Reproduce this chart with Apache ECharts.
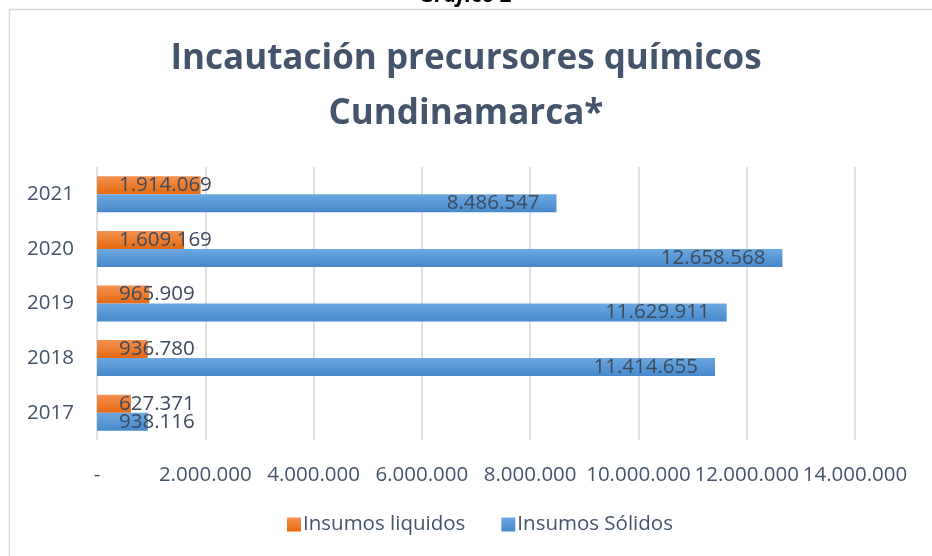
<!DOCTYPE html>
<html>
<head>
<meta charset="utf-8">
<script src="https://cdn.jsdelivr.net/npm/echarts@6/dist/echarts.min.js"></script>
<style>
html,body{margin:0;padding:0;background:#fff;}
#chart{width:932px;height:556px;}
</style>
</head>
<body>
<div id="chart"></div>
<script>
var categories = ['2017', '2018', '2019', '2020', '2021'];
var liquidos = [627371, 936780, 965909, 1609169, 1914069];
var solidos = [938116, 11414655, 11629911, 12658568, 8486547];
var tickLabels = ['-', '2.000.000', '4.000.000', '6.000.000', '8.000.000', '10.000.000', '12.000.000', '14.000.000'];
var seriesNames = ['Insumos liquidos', 'Insumos Sólidos'];

var FONT = '"Open Sans", sans-serif';
var TXT = '#44546A';

function fmt(v) {
  return String(v).replace(/\B(?=(\d{3})+(?!\d))/g, '.');
}
function items(arr) {
  return arr.map(function (v) {
    var small = v < 3000000;
    return {
      value: v,
      label: small ? { position: 'insideLeft', distance: 22 } : { position: 'insideRight', distance: 17 }
    };
  });
}
function grad(top, bottom) {
  return new echarts.graphic.LinearGradient(0, 0, 0, 1, [
    { offset: 0, color: top }, { offset: 1, color: bottom }
  ]);
}

var chart = echarts.init(document.getElementById('chart'));
chart.setOption({
  animation: false,
  textStyle: { fontFamily: FONT },
  graphic: [
    { type: 'rect', shape: { x: 9.5, y: 9.5, width: 940, height: 560 },
      style: { fill: 'none', stroke: '#D9D9D9', lineWidth: 1.5 }, z: -1 },
    { type: 'text', left: 'center', top: -15,
      style: { text: 'Gráfico 2', font: 'italic bold 22px ' + FONT, fill: '#000' } }
  ],
  title: {
    text: 'Incautación precursores químicos\nCundinamarca*',
    left: 'center',
    top: 27,
    textStyle: { fontFamily: FONT, fontWeight: 'bold', fontSize: 35, lineHeight: 55, color: TXT }
  },
  legend: {
    data: seriesNames,
    bottom: 16,
    left: 282,
    itemWidth: 14,
    itemHeight: 14,
    itemGap: 36,
    icon: 'rect',
    textStyle: { fontFamily: FONT, fontSize: 20.5, color: TXT, padding: [0, 0, 0, -3] }
  },
  grid: { left: 97, right: 77, top: 167, bottom: 116 },
  xAxis: {
    type: 'value',
    min: 0, max: 14000000, interval: 2000000,
    axisLine: { show: false }, axisTick: { show: false },
    splitLine: { show: true, lineStyle: { color: '#D9D9D9', width: 1.5 } },
    axisLabel: {
      margin: 25,
      fontFamily: FONT, fontSize: 20.5, color: TXT,
      formatter: function (v, i) { return tickLabels[Math.round(v / 2000000)]; }
    }
  },
  yAxis: {
    type: 'category',
    data: categories,
    axisLine: { show: false }, axisTick: { show: false },
    axisLabel: { margin: 23, fontFamily: FONT, fontSize: 20.5, color: TXT }
  },
  series: [
    {
      name: seriesNames[0], type: 'bar', data: items(liquidos),
      barGap: '0%', barCategoryGap: '34%',
      itemStyle: { color: grad('#F4914F', '#E5690F') },
      label: { show: true, fontFamily: FONT, fontSize: 20.5, color: '#3E4A5C', formatter: function (p) { return fmt(p.value); } }
    },
    {
      name: seriesNames[1], type: 'bar', data: items(solidos),
      barGap: '0%', barCategoryGap: '34%',
      itemStyle: { color: grad('#6CA8E0', '#4688CB') },
      label: { show: true, fontFamily: FONT, fontSize: 20.5, color: '#3E4A5C', formatter: function (p) { return fmt(p.value); } }
    }
  ]
});
</script>
</body>
</html>
